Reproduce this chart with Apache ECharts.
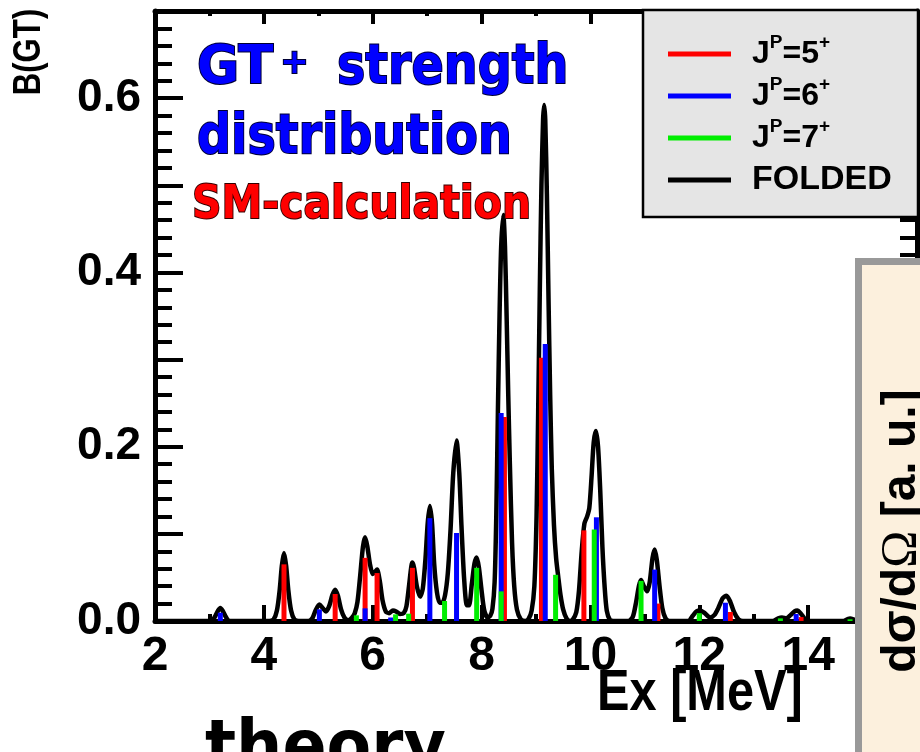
<!DOCTYPE html>
<html><head><meta charset="utf-8">
<script src="https://cdn.jsdelivr.net/npm/echarts@6/dist/echarts.min.js"></script>
<style>html,body{margin:0;padding:0;background:#fff}#c{width:920px;height:752px}</style>
</head><body><div id="c"></div><script>
// ---- data ----
const xTickLabels = [2, 4, 6, 8, 10, 12, 14];
const yTickLabels = ['0.0', '0.2', '0.4', '0.6'];
const legendNames = ['JP=5+', 'JP=6+', 'JP=7+', 'FOLDED'];

// J^P = 5+ sticks [Ex (MeV), B(GT)]
const jp5Sticks = [[4.37,0.065],[5.31,0.031],[5.86,0.0725],[6.08,0.055],[6.73,0.061],[8.42,0.234],[9.10,0.302],[9.88,0.104],[11.24,0.020],[12.57,0.0103],[13.87,0.0045]];
// J^P = 6+ sticks
const jp6Sticks = [[3.20,0.0095],[5.02,0.0134],[5.86,0.0145],[6.33,0.004],[7.05,0.118],[7.54,0.101],[8.36,0.2386],[9.17,0.318],[10.11,0.119],[11.18,0.059],[12.48,0.021],[13.78,0.008]];
// J^P = 7+ sticks
const jp7Sticks = [[5.70,0.0065],[6.42,0.0076],[6.66,0.0084],[7.32,0.023],[7.91,0.061],[8.36,0.034],[9.36,0.053],[10.07,0.105],[10.93,0.046],[12.00,0.009],[13.49,0.003],[14.77,0.002]];
// folded curve, traced point by point
const foldedCurve = [
[2.0,0],[3.0,0],[3.06,0.001],[3.11,0.006],[3.16,0.012],[3.20,0.015],[3.24,0.012],[3.29,0.006],[3.34,0.001],[3.40,0],
[4.10,0],[4.18,0.002],[4.24,0.012],[4.29,0.035],[4.33,0.063],[4.37,0.078],[4.41,0.063],[4.45,0.035],[4.50,0.012],[4.56,0.002],[4.64,0],
[4.82,0],[4.89,0.003],[4.95,0.012],[5.02,0.019],[5.08,0.015],[5.14,0.011],[5.20,0.017],[5.26,0.030],[5.31,0.036],[5.36,0.029],[5.42,0.013],[5.48,0.004],[5.55,0.001],
[5.62,0.004],[5.67,0.009],[5.72,0.022],[5.77,0.052],[5.82,0.085],[5.86,0.096],[5.90,0.086],[5.95,0.065],[6.00,0.054],[6.04,0.056],[6.08,0.059],[6.13,0.046],[6.18,0.024],[6.24,0.011],[6.30,0.009],[6.37,0.012],[6.43,0.011],[6.50,0.008],[6.57,0.009],[6.62,0.017],[6.67,0.042],[6.71,0.063],[6.73,0.067],[6.76,0.061],[6.81,0.040],[6.87,0.028],[6.92,0.037],[6.97,0.072],[7.01,0.112],[7.05,0.132],[7.09,0.112],[7.13,0.065],[7.18,0.033],[7.23,0.021],[7.28,0.021],[7.33,0.030],[7.38,0.055],[7.43,0.105],[7.48,0.170],[7.54,0.207],[7.59,0.170],[7.63,0.110],[7.68,0.048],[7.73,0.018],[7.77,0.018],[7.82,0.042],[7.87,0.066],[7.91,0.073],[7.95,0.062],[8.00,0.035],[8.05,0.012],[8.11,0.004],[8.16,0.006],[8.20,0.014],[8.24,0.045],[8.27,0.12],[8.30,0.24],[8.33,0.35],[8.36,0.43],[8.40,0.466],[8.43,0.43],[8.46,0.35],[8.49,0.26],[8.52,0.18],[8.56,0.09],[8.60,0.04],[8.65,0.013],[8.72,0.002],[8.80,0],
[8.86,0.002],[8.92,0.012],[8.97,0.04],[9.01,0.12],[9.04,0.24],[9.07,0.38],[9.10,0.50],[9.13,0.575],[9.15,0.592],[9.17,0.575],[9.20,0.49],[9.23,0.37],[9.26,0.26],[9.29,0.175],[9.33,0.11],[9.37,0.072],[9.41,0.05],[9.45,0.03],[9.50,0.013],[9.56,0.003],[9.62,0],
[9.67,0.001],[9.74,0.01],[9.79,0.035],[9.84,0.08],[9.89,0.112],[9.94,0.12],[9.98,0.13],[10.02,0.165],[10.06,0.205],[10.10,0.218],[10.14,0.2],[10.18,0.15],[10.22,0.085],[10.26,0.04],[10.30,0.012],[10.36,0.001],[10.42,0],
[10.70,0],[10.78,0.005],[10.84,0.022],[10.89,0.040],[10.93,0.047],[10.98,0.040],[11.04,0.034],[11.09,0.045],[11.14,0.072],[11.18,0.082],[11.22,0.070],[11.27,0.040],[11.32,0.015],[11.38,0.003],[11.45,0],
[11.80,0],[11.88,0.006],[11.95,0.011],[12.02,0.012],[12.10,0.009],[12.20,0.004],[12.28,0.007],[12.35,0.015],[12.43,0.026],[12.50,0.029],[12.57,0.022],[12.64,0.010],[12.72,0.002],[12.80,0],
[13.35,0],[13.45,0.003],[13.52,0.004],[13.60,0.003],[13.68,0.007],[13.75,0.011],[13.80,0.012],[13.86,0.009],[13.93,0.003],[14.0,0],
[14.65,0],[14.72,0.002],[14.77,0.003],[14.83,0.002],[14.90,0],[16,0]
];

// ---- styling ----
const SANS = "'Liberation Sans', Arial, Helvetica, sans-serif";
const COMIC = "'Comic Sans MS', 'DejaVu Sans', sans-serif";
const BLK = '#000';

const legendRich = {
  'JP=5+': '{sp|}{j|J}{sup|P}{j|=5}{sup|+}',
  'JP=6+': '{sp|}{j|J}{sup|P}{j|=6}{sup|+}',
  'JP=7+': '{sp|}{j|J}{sup|P}{j|=7}{sup|+}',
  'FOLDED': '{sp|}{f|FOLDED}'
};

function xAxisCfg(pos, majorLen, minorLen, showLabels) {
  return {
    type: 'value', min: 2, max: 16, interval: 2, position: pos,
    axisLine: { show: true, onZero: false, lineStyle: { color: BLK, width: 5 } },
    axisTick: { show: true, inside: true, length: majorLen, lineStyle: { color: BLK, width: 4 } },
    minorTick: { show: true, splitNumber: 2, length: minorLen, lineStyle: { color: BLK, width: 4 } },
    splitLine: { show: false }, minorSplitLine: { show: false },
    axisLabel: showLabels ? {
      show: true, margin: 12, color: BLK, fontFamily: SANS, fontWeight: 'bold', fontSize: 48,
      formatter: v => xTickLabels.indexOf(v) >= 0 ? String(v) : ''
    } : { show: false }
  };
}
function yAxisCfg(pos, showLabels) {
  return {
    type: 'value', min: 0, max: 0.7, interval: 0.1, position: pos,
    axisLine: { show: true, onZero: false, lineStyle: { color: BLK, width: 5 } },
    axisTick: { show: true, inside: true, length: 28, lineStyle: { color: BLK, width: 4 } },
    minorTick: { show: true, splitNumber: 5, length: 17, lineStyle: { color: BLK, width: 4 } },
    splitLine: { show: false }, minorSplitLine: { show: false },
    axisLabel: showLabels ? {
      show: true, margin: 14, color: BLK, fontFamily: SANS, fontWeight: 'bold', fontSize: 46,
      formatter: v => { const s = v.toFixed(1); return yTickLabels.indexOf(s) >= 0 ? s : ''; }
    } : { show: false }
  };
}
function sticks(name, data, color) {
  return { name, type: 'bar', data, barWidth: 5, barGap: '-100%', xAxisIndex: 0, yAxisIndex: 0,
    itemStyle: { color }, z: 3, silent: true };
}

const chart = echarts.init(document.getElementById('c'), null, { renderer: 'canvas' });
chart.setOption({
  animation: false,
  backgroundColor: '#fff',
  grid: { left: 155, top: 11, width: 765, height: 610, containLabel: false },
  xAxis: [xAxisCfg('bottom', 16, 7, true), xAxisCfg('top', 13, 5, false)],
  yAxis: [yAxisCfg('left', true), yAxisCfg('right', false)],
  legend: {
    data: legendNames, orient: 'vertical', left: 668, top: 33, padding: 0,
    itemWidth: 63, itemHeight: 5, itemGap: 0, icon: 'rect', selectedMode: false, z: 20,
    formatter: n => legendRich[n],
    textStyle: {
      color: BLK, fontFamily: SANS, fontWeight: 'bold', fontSize: 32, lineHeight: 42,
      rich: {
        sp: { width: 16 },
        j: { fontFamily: SANS, fontWeight: 'bold', fontSize: 32, color: BLK, lineHeight: 42 },
        sup: { fontFamily: SANS, fontWeight: 'bold', fontSize: 19, color: BLK, lineHeight: 20, verticalAlign: 'top' },
        f: { fontFamily: SANS, fontWeight: 'bold', fontSize: 34, color: BLK, lineHeight: 42 }
      }
    }
  },
  series: [
    { name: 'FOLDED', type: 'line', data: foldedCurve, xAxisIndex: 0, yAxisIndex: 0,
      symbol: 'none', showSymbol: false, smooth: 0.25, silent: true, z: 2,
      lineStyle: { color: BLK, width: 4.5 }, itemStyle: { color: BLK } },
    sticks('JP=5+', jp5Sticks, '#ff0000'),
    sticks('JP=6+', jp6Sticks, '#0000ff'),
    sticks('JP=7+', jp7Sticks, '#00ee00')
  ],
  graphic: [
    { type: 'rect', z: 15, shape: { x: 643, y: 10, width: 275, height: 207 },
      style: { fill: '#e5e5e5', stroke: BLK, lineWidth: 2.5 } },
    { type: 'rect', z: 30, shape: { x: 858.5, y: 261.5, width: 120, height: 600 },
      style: { fill: '#fcf0dd', stroke: '#999999', lineWidth: 7 } },
    { type: 'text', z: 31, x: 902, y: 531, rotation: Math.PI / 2,
      style: { text: '{b|dσ/d}{o|Ω}{b| [a. u.]}', align: 'center', verticalAlign: 'middle',
        rich: { b: { fontFamily: SANS, fontWeight: 'bold', fontSize: 48, fill: BLK },
                o: { fontFamily: "'Liberation Serif', serif", fontWeight: 'normal', fontSize: 50, fill: BLK } } } },
    { type: 'text', z: 31, x: 30, y: 52, rotation: Math.PI / 2, scaleX: 0.82,
      style: { text: 'B(GT)', align: 'center', verticalAlign: 'middle', fill: BLK,
        fontFamily: SANS, fontWeight: 'bold', fontSize: 38 } },
    { type: 'text', z: 31, x: 597, y: 694, scaleX: 0.84,
      style: { text: 'Ex [MeV]', align: 'left', verticalAlign: 'middle', fill: BLK,
        fontFamily: SANS, fontWeight: 'bold', fontSize: 58 } },
    { type: 'text', z: 31, x: 205, y: 751, scaleX: 0.93,
      style: { text: 'theory', align: 'left', verticalAlign: 'middle', fill: BLK,
        fontFamily: COMIC, fontWeight: 'bold', fontSize: 70 } },
    { type: 'text', z: 31, x: 197, y: 69, scaleX: 0.97,
      style: { text: 'GT', align: 'left', verticalAlign: 'middle', fill: '#0000ff',
        stroke: '#000033', lineWidth: 2, fontFamily: COMIC, fontWeight: 'bold', fontSize: 53 } },
    { type: 'text', z: 31, x: 294.5, y: 64,
      style: { text: '+', align: 'center', verticalAlign: 'middle', fill: '#0000ff',
        stroke: '#000033', lineWidth: 2, fontFamily: COMIC, fontWeight: 'bold', fontSize: 34 } },
    { type: 'text', z: 31, x: 337, y: 68.6, scaleX: 0.85,
      style: { text: 'strength', align: 'left', verticalAlign: 'middle', fill: '#0000ff',
        stroke: '#000033', lineWidth: 2, fontFamily: COMIC, fontWeight: 'bold', fontSize: 56 } },
    { type: 'text', z: 31, x: 197, y: 138, scaleX: 0.85,
      style: { text: 'distribution', align: 'left', verticalAlign: 'middle', fill: '#0000ff',
        stroke: '#000033', lineWidth: 2, fontFamily: COMIC, fontWeight: 'bold', fontSize: 56 } },
    { type: 'text', z: 31, x: 192, y: 206, scaleX: 0.89,
      style: { text: 'SM-calculation', align: 'left', verticalAlign: 'middle', fill: '#ff0000',
        stroke: '#330000', lineWidth: 2, fontFamily: COMIC, fontWeight: 'bold', fontSize: 46 } }
  ]
});
</script></body></html>
